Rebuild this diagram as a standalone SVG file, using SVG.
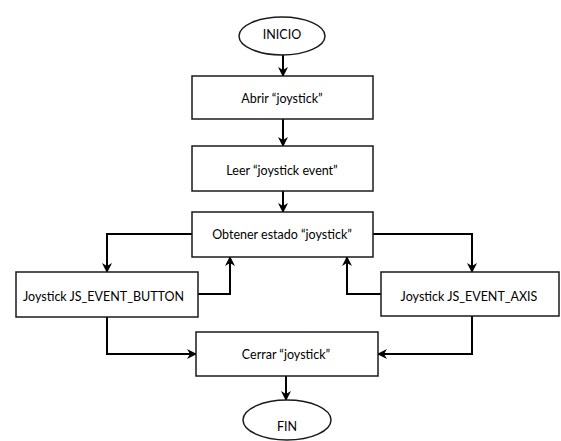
<svg xmlns="http://www.w3.org/2000/svg" width="561" height="441" viewBox="0 0 561 441">
  <style>
    .shape { fill: #ffffff; stroke: #1a1a1a; stroke-width: 1.5; }
    .label { font-family: Lato, "Liberation Sans", sans-serif; font-size: 12.5px; fill: #000000; dominant-baseline: central; }
    .mid { text-anchor: middle; }
    .wire { fill: none; stroke: #000000; stroke-width: 2; marker-end: url(#arrow); }
  </style>
  <defs>
    <marker id="arrow" viewBox="0 0 10 10" refX="9" refY="5" markerWidth="5" markerHeight="5" orient="auto" markerUnits="strokeWidth">
      <path d="M0,0 L10,5 L0,10 L3,5 z" fill="#000000"/>
    </marker>
  </defs>
  <rect width="561" height="441" fill="#ffffff"/>

  <g id="connectors">
    <line class="wire" x1="283" y1="55" x2="283" y2="76"/>
    <line class="wire" x1="283" y1="119" x2="283" y2="146"/>
    <line class="wire" x1="283" y1="191" x2="283" y2="212"/>
    <polyline class="wire" points="192,234 107,234 107,272"/>
    <polyline class="wire" points="373,234 472,234 472,272"/>
    <polyline class="wire" points="198,294 230,294 230,257"/>
    <polyline class="wire" points="381,294 347,294 347,257"/>
    <polyline class="wire" points="107,317 107,354 196,354"/>
    <polyline class="wire" points="472,316 472,354 378,354"/>
    <line class="wire" x1="286" y1="376" x2="286" y2="400"/>
  </g>

  <g id="inicio">
    <ellipse class="shape" cx="282" cy="36" rx="43" ry="19"/>
    <text class="label mid" x="282" y="34">INICIO</text>
  </g>
  <g id="abrir">
    <rect class="shape" x="192" y="76" width="181" height="43"/>
    <text class="label mid" x="282" y="98">Abrir “joystick”</text>
  </g>
  <g id="leer">
    <rect class="shape" x="192" y="146" width="181" height="45"/>
    <text class="label mid" x="282" y="170">Leer “joystick event”</text>
  </g>
  <g id="obtener">
    <rect class="shape" x="192" y="212" width="181" height="45"/>
    <text class="label mid" x="282" y="234">Obtener estado “joystick”</text>
  </g>
  <g id="button">
    <rect class="shape" x="16" y="272" width="182" height="45"/>
    <text class="label" x="23" y="296">Joystick JS_EVENT_BUTTON</text>
  </g>
  <g id="axis">
    <rect class="shape" x="381" y="272" width="178" height="44"/>
    <text class="label mid" x="469" y="296">Joystick JS_EVENT_AXIS</text>
  </g>
  <g id="cerrar">
    <rect class="shape" x="196" y="332" width="182" height="44"/>
    <text class="label mid" x="286" y="354">Cerrar “joystick”</text>
  </g>
  <g id="fin">
    <ellipse class="shape" cx="287" cy="420" rx="44" ry="20"/>
    <text class="label mid" x="287" y="426">FIN</text>
  </g>
</svg>
